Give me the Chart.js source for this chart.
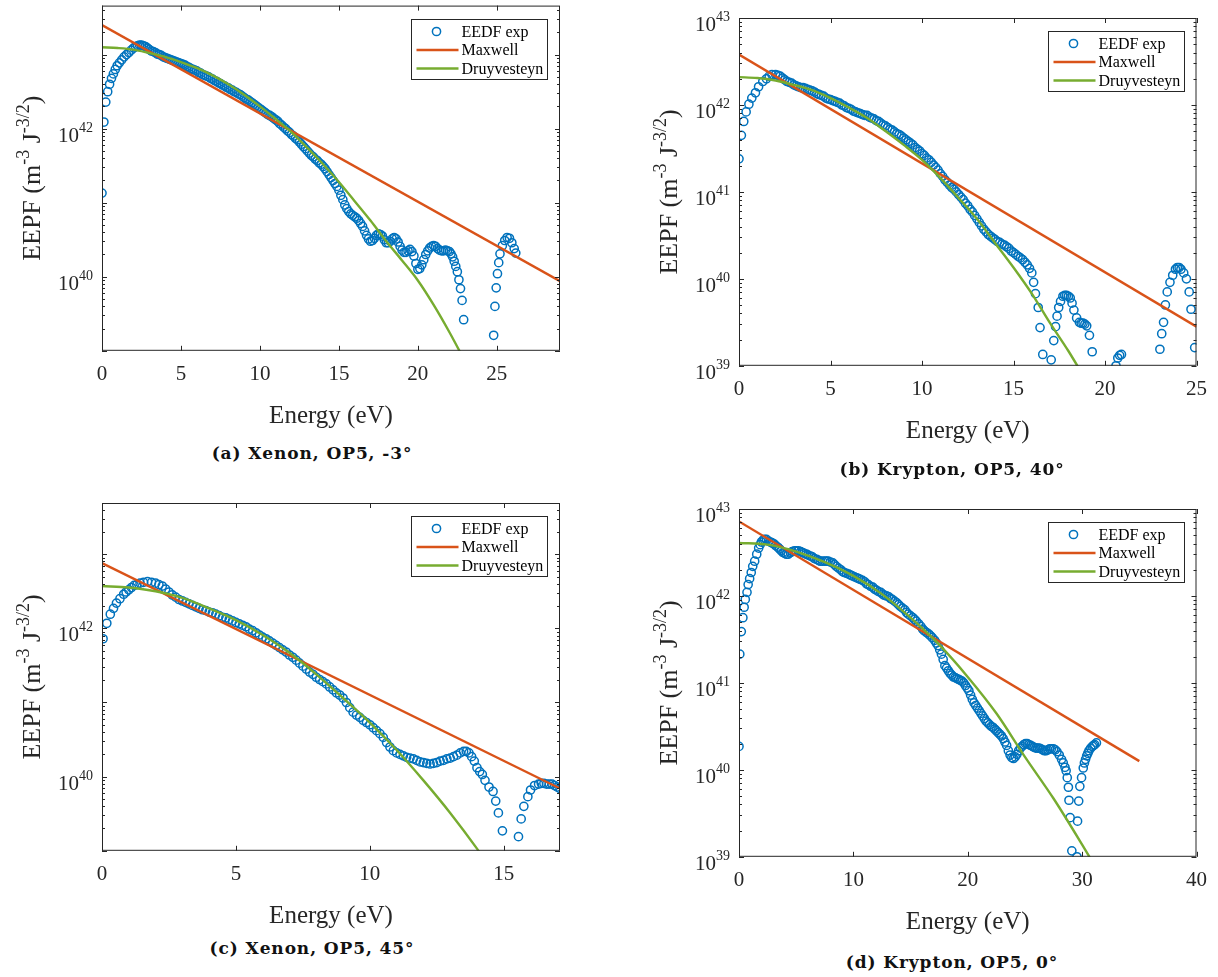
<!DOCTYPE html>
<html>
<head>
<meta charset="utf-8">
<script src="https://cdn.jsdelivr.net/npm/chart.js@4.4.1/dist/chart.umd.min.js"></script>
<style>
  body { margin: 0; background: #fff; width: 1218px; height: 977px; position: relative; overflow: hidden; }
  canvas { position: absolute; }
  .cap { position: absolute; font: bold 17px "DejaVu Serif", serif; letter-spacing: 0.9px; color: #111;
         white-space: nowrap; transform: translate(-50%, -50%); }
</style>
</head>
<body>
<canvas id="panelA" width="610" height="440" style="left:0;top:0"></canvas>
<canvas id="panelB" width="608" height="460" style="left:610px;top:0"></canvas>
<canvas id="panelC" width="610" height="445" style="left:0;top:490px"></canvas>
<canvas id="panelD" width="608" height="460" style="left:610px;top:490px"></canvas>
<div class="cap" style="left:312px;top:453px">(a) Xenon, OP5, -3°</div>
<div class="cap" style="left:952px;top:469px">(b) Krypton, OP5, 40°</div>
<div class="cap" style="left:312px;top:948px">(c) Xenon, OP5, 45°</div>
<div class="cap" style="left:952px;top:962px">(d) Krypton, OP5, 0°</div>
<script>
// (a) Xenon, OP5, -3 deg
const xeM3Energy = [0, 0.12, 0.24, 0.36, 0.48, 0.6, 0.72, 0.84, 0.96, 1.1, 1.25, 1.4, 1.55, 1.7, 1.85, 2.0,
  2.125, 2.25, 2.375, 2.5, 2.625, 2.75, 2.875, 3.0, 3.125, 3.25, 3.375, 3.5, 3.625, 3.75, 3.875,
  4.0, 4.125, 4.25, 4.375, 4.5, 4.625, 4.75, 4.875, 5.0, 5.125, 5.25, 5.375, 5.5, 5.625, 5.75, 5.875,
  6.0, 6.125, 6.25, 6.375, 6.5, 6.625, 6.75, 6.875, 7.0, 7.125, 7.25, 7.375, 7.5, 7.625, 7.75, 7.875,
  8.0, 8.125, 8.25, 8.375, 8.5, 8.625, 8.75, 8.875, 9.0, 9.125, 9.25, 9.375, 9.5, 9.625, 9.75, 9.875,
  10.0, 10.125, 10.25, 10.375, 10.5, 10.625, 10.75, 10.875, 11.0, 11.125, 11.25, 11.375, 11.5, 11.625, 11.75, 11.875,
  12.0, 12.125, 12.25, 12.375, 12.5, 12.625, 12.75, 12.875, 13.0, 13.125, 13.25, 13.375, 13.5, 13.625, 13.75, 13.875,
  14.0, 14.125, 14.25, 14.375, 14.5, 14.625, 14.75, 14.875, 15.0, 15.125, 15.25, 15.375, 15.5, 15.625, 15.75, 15.875,
  16.0, 16.125, 16.25, 16.375, 16.5, 16.625, 16.75, 16.875, 17.0, 17.125, 17.25, 17.375, 17.5, 17.625, 17.75, 17.875,
  18.0, 18.125, 18.25, 18.375, 18.5, 18.625, 18.75, 18.875, 19.0, 19.125, 19.25, 19.375, 19.5, 19.625, 19.75, 19.875,
  20.0, 20.125, 20.25, 20.375, 20.5, 20.625, 20.75, 20.875, 21.0, 21.125, 21.25, 21.375, 21.5, 21.625, 21.75, 21.875,
  22.0, 22.1, 22.2, 22.3, 22.4, 22.5, 22.6, 22.7, 22.8, 22.9,
  24.8, 24.88, 24.96, 25.04, 25.12, 25.2, 25.35, 25.5, 25.65, 25.8, 25.95, 26.1, 26.2];
const xeM3Eepf = [1.35e41, 1.23e42, 2.29e42, 3.16e42, 3.98e42, 4.79e42, 5.5e42, 6.31e42, 7.08e42, 7.76e42, 8.51e42,
  9.33e42, 1.0e43, 1.07e43, 1.15e43, 1.23e43,
  1.29e43, 1.32e43, 1.35e43, 1.35e43, 1.32e43, 1.29e43, 1.23e43, 1.17e43, 1.12e43, 1.1e43, 1.07e43, 1.02e43, 1.0e43, 9.77e42, 9.33e42,
  9.12e42, 8.91e42, 8.71e42, 8.51e42, 8.32e42, 8.13e42, 7.94e42, 7.76e42, 7.59e42, 7.41e42, 7.24e42, 6.92e42, 6.76e42, 6.46e42, 6.31e42, 6.17e42,
  6.03e42, 5.75e42, 5.62e42, 5.37e42, 5.25e42, 5.13e42, 5.01e42, 4.79e42, 4.68e42, 4.47e42, 4.37e42, 4.17e42, 4.07e42, 3.89e42, 3.8e42, 3.63e42,
  3.55e42, 3.39e42, 3.31e42, 3.16e42, 3.09e42, 2.95e42, 2.88e42, 2.75e42, 2.63e42, 2.51e42, 2.45e42, 2.34e42, 2.24e42, 2.14e42, 2.04e42, 1.95e42,
  1.86e42, 1.78e42, 1.7e42, 1.62e42, 1.55e42, 1.51e42, 1.45e42, 1.38e42, 1.32e42, 1.26e42, 1.17e42, 1.12e42, 1.05e42, 1.0e42, 9.33e41, 8.91e41,
  8.32e41, 7.94e41, 7.41e41, 7.08e41, 6.61e41, 6.17e41, 5.75e41, 5.37e41, 5.01e41, 4.68e41, 4.37e41, 4.17e41, 3.89e41, 3.72e41, 3.47e41, 3.31e41,
  3.09e41, 2.88e41, 2.63e41, 2.4e41, 2.19e41, 2.0e41, 1.82e41, 1.66e41, 1.48e41, 1.26e41, 1.1e41, 9.33e40, 8.32e40, 7.59e40, 7.08e40, 6.76e40,
  6.46e40, 6.17e40, 5.75e40, 5.25e40, 4.79e40, 4.17e40, 3.63e40, 3.24e40, 3.02e40, 3.09e40, 3.31e40, 3.63e40, 3.8e40, 3.72e40, 3.55e40, 3.16e40,
  2.88e40, 2.88e40, 3.02e40, 3.24e40, 3.39e40, 3.24e40, 2.95e40, 2.57e40, 2.29e40, 2.14e40, 2.14e40, 2.24e40, 2.34e40, 2.19e40, 1.91e40, 1.51e40,
  1.26e40, 1.29e40, 1.45e40, 1.7e40, 2.0e40, 2.24e40, 2.45e40, 2.57e40, 2.63e40, 2.57e40, 2.4e40, 2.29e40, 2.24e40, 2.24e40, 2.29e40, 2.24e40,
  2.19e40, 2.04e40, 1.86e40, 1.62e40, 1.38e40, 1.17e40, 9.12e39, 6.92e39, 4.79e39, 2.63e39,
  1.62e39, 3.98e39, 7.08e39, 1.1e40, 1.55e40, 2.04e40, 2.63e40, 3.09e40, 3.39e40, 3.31e40, 2.88e40, 2.4e40, 2.09e40];
const xeM3MaxwellEnergy = [0, 29];
const xeM3Maxwell = [2.51e43, 8.7e39];
const xeM3DruyEnergy = [0, 1, 2, 3, 4, 5, 6, 7, 8, 9, 10, 11, 12, 13, 14, 15, 16, 17, 18, 19, 20, 21, 22, 23];
const xeM3Druy = [1.26e43, 1.23e43, 1.17e43, 1.05e43, 9.33e42, 7.94e42, 6.61e42, 5.25e42, 3.98e42, 2.88e42,
  2.0e42, 1.35e42, 8.91e41, 5.5e41, 3.31e41, 1.91e41, 1.05e41, 5.75e40, 3.02e40, 1.66e40, 8.91e39, 4.17e39,
  1.78e39, 7.1e38];

// (b) Krypton, OP5, 40 deg
const kr40Energy = [0, 0.13, 0.26, 0.39, 0.54, 0.7, 0.9, 1.07, 1.3, 1.5, 1.65, 1.8,
  2.0, 2.125, 2.25, 2.375, 2.5, 2.625, 2.75, 2.875, 3.0, 3.125, 3.25, 3.375, 3.5, 3.625, 3.75, 3.875,
  4.0, 4.125, 4.25, 4.375, 4.5, 4.625, 4.75, 4.875, 5.0, 5.125, 5.25, 5.375, 5.5, 5.625, 5.75, 5.875,
  6.0, 6.125, 6.25, 6.375, 6.5, 6.625, 6.75, 6.875, 7.0, 7.125, 7.25, 7.375, 7.5, 7.625, 7.75, 7.875,
  8.0, 8.125, 8.25, 8.375, 8.5, 8.625, 8.75, 8.875, 9.0, 9.125, 9.25, 9.375, 9.5, 9.625, 9.75, 9.875,
  10.0, 10.125, 10.25, 10.375, 10.5, 10.625, 10.75, 10.875, 11.0, 11.125, 11.25, 11.375, 11.5, 11.625, 11.75, 11.875,
  12.0, 12.125, 12.25, 12.375, 12.5, 12.625, 12.75, 12.875, 13.0, 13.125, 13.25, 13.375, 13.5, 13.625, 13.75, 13.875,
  14.0, 14.125, 14.25, 14.375, 14.5, 14.625, 14.75, 14.875, 15.0, 15.125, 15.25, 15.375, 15.5, 15.625, 15.75, 15.875,
  16.0, 16.1, 16.2, 16.35, 16.45, 16.6, 17.06, 17.2, 17.3, 17.38, 17.47, 17.57, 17.7, 17.8, 17.9, 18.0, 18.1,
  18.2, 18.3, 18.45, 18.6, 18.7, 18.8, 18.9, 19.0, 19.15, 19.3, 20.6, 20.7, 20.8, 20.9,
  23.0, 23.1, 23.2, 23.3, 23.4, 23.55, 23.7, 23.85, 23.95, 24.05, 24.15, 24.3, 24.45, 24.6, 24.7, 24.9];
const kr40Eepf = [2.4e41, 4.47e41, 6.46e41, 8.32e41, 1.02e42, 1.2e42, 1.38e42, 1.62e42, 1.86e42, 2.0e42, 2.14e42, 2.24e42,
  2.24e42, 2.19e42, 2.14e42, 2.04e42, 1.95e42, 1.86e42, 1.82e42, 1.78e42, 1.7e42, 1.66e42, 1.62e42, 1.58e42, 1.58e42, 1.55e42, 1.51e42, 1.48e42,
  1.45e42, 1.41e42, 1.35e42, 1.32e42, 1.29e42, 1.26e42, 1.2e42, 1.17e42, 1.15e42, 1.12e42, 1.1e42, 1.07e42, 1.05e42, 1.0e42, 9.77e41, 9.33e41,
  9.12e41, 8.91e41, 8.51e41, 8.32e41, 8.13e41, 7.94e41, 7.76e41, 7.59e41, 7.59e41, 7.24e41, 7.08e41, 6.92e41, 6.61e41, 6.46e41, 6.17e41, 5.89e41,
  5.75e41, 5.5e41, 5.25e41, 5.13e41, 4.9e41, 4.68e41, 4.57e41, 4.37e41, 4.17e41, 3.98e41, 3.8e41, 3.63e41, 3.47e41, 3.24e41, 3.09e41, 2.95e41,
  2.75e41, 2.63e41, 2.45e41, 2.34e41, 2.19e41, 2.04e41, 1.91e41, 1.78e41, 1.62e41, 1.51e41, 1.38e41, 1.29e41, 1.2e41, 1.12e41, 1.07e41, 1.0e41,
  9.33e40, 8.71e40, 8.13e40, 7.41e40, 6.92e40, 6.31e40, 5.89e40, 5.37e40, 4.9e40, 4.47e40, 4.07e40, 3.72e40, 3.47e40, 3.24e40, 3.09e40, 2.95e40,
  2.82e40, 2.69e40, 2.63e40, 2.51e40, 2.45e40, 2.34e40, 2.24e40, 2.09e40, 2.0e40, 1.91e40, 1.82e40, 1.74e40, 1.66e40, 1.55e40, 1.45e40, 1.32e40,
  1.17e40, 9.12e39, 6.76e39, 4.68e39, 2.75e39, 1.35e39, 1.17e39, 1.95e39, 2.82e39, 3.72e39, 4.68e39, 5.5e39, 6.31e39, 6.46e39, 6.46e39, 6.31e39, 6.03e39,
  5.25e39, 4.37e39, 3.55e39, 3.16e39, 3.09e39, 3.09e39, 3.02e39, 2.88e39, 2.24e39, 1.45e39, 1.0e39, 1.23e39, 1.32e39, 1.35e39,
  1.55e39, 2.34e39, 3.16e39, 5.01e39, 7.08e39, 9.12e39, 1.1e40, 1.29e40, 1.35e40, 1.35e40, 1.29e40, 1.17e40, 1.0e40, 7.08e39, 4.47e39, 1.62e39];
const kr40MaxwellEnergy = [0, 25];
const kr40Maxwell = [3.8e42, 2.82e39];
const kr40DruyEnergy = [0, 1, 2, 3, 4, 5, 6, 7, 8, 9, 10, 11, 12, 13, 14, 15, 16, 17, 18, 19];
const kr40Druy = [2.09e42, 2.04e42, 1.91e42, 1.7e42, 1.48e42, 1.2e42, 9.33e41, 7.08e41, 5.01e41, 3.47e41,
  2.34e41, 1.45e41, 8.51e40, 4.9e40, 2.57e40, 1.35e40, 6.76e39, 3.09e39, 1.48e39, 6.6e38];

// (c) Xenon, OP5, 45 deg
const xe45Energy = [0.04, 0.18, 0.31, 0.43, 0.54, 0.67, 0.81, 0.9, 1.0, 1.1, 1.2, 1.3, 1.42, 1.55, 1.7, 1.85,
  2.0, 2.125, 2.25, 2.375, 2.5, 2.625, 2.75, 2.875, 3.0, 3.125, 3.25, 3.375, 3.5, 3.625, 3.75, 3.875,
  4.0, 4.125, 4.25, 4.375, 4.5, 4.625, 4.75, 4.875, 5.0, 5.125, 5.25, 5.375, 5.5, 5.625, 5.75, 5.875,
  6.0, 6.125, 6.25, 6.375, 6.5, 6.625, 6.75, 6.875, 7.0, 7.125, 7.25, 7.375, 7.5, 7.625, 7.75, 7.875,
  8.0, 8.125, 8.25, 8.375, 8.5, 8.625, 8.75, 8.875, 9.0, 9.125, 9.25, 9.375, 9.5, 9.625, 9.75, 9.875,
  10.0, 10.125, 10.25, 10.375, 10.5, 10.625, 10.75, 10.875, 11.0, 11.125, 11.25, 11.375, 11.5, 11.625, 11.75, 11.875,
  12.0, 12.125, 12.25, 12.375, 12.5, 12.625, 12.75, 12.875, 13.0, 13.125, 13.25, 13.375, 13.5,
  13.6, 13.7, 13.8, 13.9, 14.0, 14.1, 14.2, 14.3, 14.45, 14.6, 14.7, 14.8, 14.95,
  15.55, 15.65, 15.75, 15.9, 16.0, 16.15, 16.3, 16.4, 16.5, 16.6, 16.7, 16.8, 16.9, 17.0, 17.1];
const xe45Eepf = [7.24e41, 1.17e42, 1.55e42, 1.86e42, 2.19e42, 2.51e42, 2.88e42, 3.09e42, 3.31e42, 3.55e42, 3.8e42,
  3.89e42, 4.07e42, 4.17e42, 4.27e42, 4.17e42,
  4.07e42, 3.89e42, 3.72e42, 3.39e42, 3.09e42, 2.82e42, 2.63e42, 2.45e42, 2.34e42, 2.24e42, 2.14e42, 2.04e42, 1.95e42, 1.86e42, 1.78e42, 1.74e42,
  1.66e42, 1.62e42, 1.55e42, 1.48e42, 1.41e42, 1.38e42, 1.32e42, 1.26e42, 1.2e42, 1.15e42, 1.1e42, 1.05e42, 9.77e41, 9.33e41, 8.71e41, 8.13e41,
  7.59e41, 7.24e41, 6.76e41, 6.31e41, 5.89e41, 5.5e41, 5.13e41, 4.79e41, 4.37e41, 4.07e41, 3.72e41, 3.39e41, 3.09e41, 2.82e41, 2.57e41, 2.4e41,
  2.19e41, 2.04e41, 1.91e41, 1.78e41, 1.62e41, 1.48e41, 1.35e41, 1.26e41, 1.15e41, 1.0e41, 8.51e40, 7.41e40, 6.76e40, 6.31e40, 5.75e40, 5.37e40,
  5.01e40, 4.57e40, 4.17e40, 3.8e40, 3.39e40, 2.88e40, 2.51e40, 2.24e40, 2.09e40, 2.0e40, 1.91e40, 1.82e40, 1.78e40, 1.74e40, 1.66e40, 1.58e40,
  1.55e40, 1.51e40, 1.48e40, 1.51e40, 1.55e40, 1.62e40, 1.66e40, 1.74e40, 1.78e40, 1.86e40, 1.95e40, 2.09e40, 2.19e40,
  2.19e40, 2.09e40, 1.86e40, 1.62e40, 1.32e40, 1.17e40, 1.07e40, 8.91e39, 7.24e39, 6.31e39, 4.68e39, 3.24e39, 1.86e39,
  1.55e39, 2.69e39, 3.98e39, 5.37e39, 6.61e39, 7.59e39, 7.94e39, 8.13e39, 8.13e39, 7.94e39, 7.94e39, 7.94e39, 7.59e39, 7.24e39, 6.92e39];
const xe45MaxwellEnergy = [0, 17.1];
const xe45Maxwell = [7.59e42, 6.92e39];
const xe45DruyEnergy = [0, 1, 2, 3, 4, 5, 6, 7, 8, 9, 10, 11, 12, 13, 14, 14.4];
const xe45Druy = [3.72e42, 3.55e42, 3.16e42, 2.57e42, 1.86e42, 1.29e42, 8.13e41, 4.68e41, 2.4e41, 1.15e41,
  5.37e40, 2.29e40, 8.91e39, 3.24e39, 1.07e39, 6.6e38];

// (d) Krypton, OP5, 0 deg
const kr0Energy = [0, 0.07, 0.2, 0.34, 0.45, 0.55, 0.7, 0.8, 0.93, 1.07, 1.2, 1.37, 1.55, 1.72, 1.85, 1.96,
  2.1, 2.23, 2.4, 2.58, 2.75, 2.9, 3.05, 3.2, 3.4, 3.55, 3.7, 3.85, 4.0, 4.15, 4.3, 4.5, 4.65, 4.85,
  5.0, 5.2, 5.4, 5.55, 5.7, 5.9, 6.05, 6.25, 6.4, 6.6, 6.8, 6.95, 7.1, 7.3, 7.5, 7.65, 7.8, 8.0, 8.2,
  8.35, 8.5, 8.7, 8.9, 9.05, 9.2, 9.4, 9.6, 9.75, 9.9, 10.1, 10.3, 10.45, 10.6, 10.8, 11.0, 11.15, 11.3,
  11.5, 11.7, 11.85, 12.0, 12.2, 12.4, 12.55, 12.7, 12.9, 13.1, 13.25, 13.4, 13.6, 13.8, 13.95, 14.1,
  14.3, 14.5, 14.65, 14.8, 15.0, 15.2, 15.35, 15.5, 15.7, 15.9, 16.05, 16.2, 16.4, 16.6, 16.75, 16.9,
  17.1, 17.25, 17.4, 17.55, 17.7, 17.85, 18.0, 18.15, 18.3, 18.45, 18.6, 18.75, 18.9, 19.05, 19.2, 19.35,
  19.5, 19.65, 19.8, 19.95, 20.1, 20.25, 20.4, 20.55, 20.7, 20.85, 21.0, 21.15, 21.3, 21.45, 21.6, 21.75,
  21.9, 22.05, 22.2, 22.35, 22.5, 22.65, 22.8, 22.95, 23.1, 23.25, 23.4, 23.55, 23.7, 23.85, 24.0, 24.15,
  24.3, 24.45, 24.6, 24.75, 24.9, 25.05, 25.2, 25.35, 25.5, 25.65, 25.8, 25.95, 26.1, 26.25, 26.4, 26.55,
  26.7, 26.85, 27.0, 27.15, 27.3, 27.5, 27.65, 27.8, 28.0, 28.2, 28.35, 28.5, 28.6, 28.7, 28.8, 28.85,
  28.95, 29.1, 29.55, 29.6, 29.7, 29.8, 29.95, 30.1, 30.2, 30.3, 30.4, 30.5, 30.6, 30.75, 30.9, 31.0,
  31.1, 31.25];
const kr0Eepf = [1.86e40, 2.14e41, 3.89e41, 5.62e41, 7.41e41, 9.12e41, 1.1e42, 1.35e42, 1.58e42, 1.86e42, 2.19e42,
  2.51e42, 3.02e42, 3.55e42, 3.89e42, 4.17e42,
  4.37e42, 4.47e42, 4.47e42, 4.27e42, 4.17e42, 4.07e42, 3.98e42, 3.8e42, 3.63e42, 3.47e42, 3.31e42, 3.16e42, 3.09e42, 3.02e42, 3.02e42, 3.16e42, 3.24e42, 3.31e42,
  3.31e42, 3.31e42, 3.24e42, 3.16e42, 3.09e42, 3.02e42, 2.95e42, 2.88e42, 2.82e42, 2.69e42, 2.63e42, 2.57e42, 2.51e42, 2.51e42, 2.51e42, 2.51e42, 2.51e42, 2.45e42, 2.4e42,
  2.29e42, 2.19e42, 2.09e42, 2.0e42, 1.91e42, 1.86e42, 1.82e42, 1.78e42, 1.74e42, 1.7e42, 1.66e42, 1.62e42, 1.58e42, 1.55e42, 1.51e42, 1.45e42, 1.38e42, 1.35e42,
  1.29e42, 1.26e42, 1.2e42, 1.17e42, 1.12e42, 1.1e42, 1.05e42, 1.02e42, 1.0e42, 9.77e41, 9.33e41, 9.12e41, 8.71e41, 8.32e41, 7.94e41, 7.59e41,
  7.24e41, 6.92e41, 6.46e41, 6.17e41, 5.89e41, 5.62e41, 5.37e41, 5.13e41, 4.79e41, 4.47e41, 4.17e41, 3.98e41, 3.8e41, 3.63e41, 3.47e41, 3.31e41,
  3.09e41, 2.88e41, 2.69e41, 2.4e41, 2.14e41, 1.86e41, 1.58e41, 1.48e41, 1.38e41, 1.29e41, 1.23e41, 1.17e41, 1.15e41, 1.12e41, 1.1e41, 1.07e41,
  1.05e41, 1.0e41, 9.33e40, 8.71e40, 8.13e40, 7.24e40, 6.46e40, 5.89e40, 5.5e40, 5.13e40, 4.79e40, 4.47e40, 4.17e40, 3.89e40, 3.63e40, 3.47e40,
  3.31e40, 3.16e40, 3.09e40, 2.95e40, 2.82e40, 2.69e40, 2.57e40, 2.45e40, 2.29e40, 2.09e40, 1.91e40, 1.66e40, 1.48e40, 1.38e40, 1.35e40, 1.41e40,
  1.51e40, 1.66e40, 1.78e40, 1.86e40, 1.95e40, 2.0e40, 2.0e40, 1.95e40, 1.91e40, 1.86e40, 1.82e40, 1.78e40, 1.78e40, 1.78e40, 1.74e40, 1.7e40,
  1.66e40, 1.66e40, 1.7e40, 1.74e40, 1.74e40, 1.74e40, 1.7e40, 1.62e40, 1.48e40, 1.32e40, 1.2e40, 1.07e40, 9.77e39, 8.13e39, 6.31e39, 4.47e39,
  2.82e39, 1.17e39, 1.0e39, 2.57e39, 4.37e39, 6.46e39, 8.13e39, 1.05e40, 1.2e40, 1.32e40, 1.45e40, 1.55e40, 1.66e40, 1.78e40, 1.86e40, 1.91e40,
  1.95e40, 2.04e40];
const kr0MaxwellEnergy = [0, 35];
const kr0Maxwell = [7.2e42, 1.26e40];
const kr0DruyEnergy = [0, 2.5, 5, 7.5, 10, 12.5, 15, 17.5, 20, 22.5, 25, 27.5, 30, 31];
const kr0Druy = [4.07e42, 3.89e42, 3.24e42, 2.45e42, 1.7e42, 1.05e42, 5.62e41, 2.75e41, 1.17e41, 4.47e40,
  1.41e40, 4.68e39, 1.38e39, 8.3e38];

const axisColor = '#262626';
const serif = '"Liberation Serif", "Times New Roman", serif';
Chart.defaults.font.family = serif;

function pairs(xs, ys) {
  return xs.map((x, i) => ({ x, y: ys[i] }));
}

// MATLAB-style box: inward ticks on all sides, 10^n labels, rotated y title, legend inside
const matlabAxes = {
  id: 'matlabAxes',
  afterDraw(chart, args, opts) {
    const { ctx, chartArea: a, scales: { x, y } } = chart;
    ctx.save();
    ctx.strokeStyle = axisColor;
    ctx.lineWidth = 1;
    ctx.beginPath();
    x.ticks.forEach((t) => {
      const px = Math.round(x.getPixelForValue(t.value)) + 0.5;
      ctx.moveTo(px, a.bottom); ctx.lineTo(px, a.bottom - 5);
      ctx.moveTo(px, a.top); ctx.lineTo(px, a.top + 5);
    });
    const lo = Math.floor(Math.log10(y.min));
    const hi = Math.ceil(Math.log10(y.max));
    for (let k = lo; k <= hi; k++) {
      for (let m = 1; m < 10; m++) {
        const v = m * Math.pow(10, k);
        if (v < y.min * 0.999 || v > y.max * 1.001) continue;
        const py = Math.round(y.getPixelForValue(v)) + 0.5;
        const len = m === 1 ? 5 : 3;
        ctx.moveTo(a.left, py); ctx.lineTo(a.left + len, py);
        ctx.moveTo(a.right, py); ctx.lineTo(a.right - len, py);
      }
    }
    ctx.stroke();
    ctx.strokeRect(a.left + 0.5, a.top + 0.5, a.right - a.left - 1, a.bottom - a.top - 1);

    // y tick labels 10^n
    ctx.fillStyle = axisColor;
    ctx.textBaseline = 'alphabetic';
    ctx.textAlign = 'left';
    opts.yLabels.forEach((e) => {
      const py = y.getPixelForValue(Math.pow(10, e));
      ctx.font = '14px ' + serif;
      const sw = ctx.measureText(String(e)).width;
      ctx.font = '21px ' + serif;
      const bw = ctx.measureText('10').width;
      const right = a.left - 9;
      ctx.fillText('10', right - sw - bw, py + 13);
      ctx.font = '14px ' + serif;
      ctx.fillText(String(e), right - sw, py + 3);
    });

    // y title with superscripts
    const parts = [['EEPF (m', 0], ['-3', 1], [' J', 0], ['-3/2', 1], [')', 0]];
    const fontFor = (s) => (s ? '18px ' : '26px ') + serif;
    let total = 0;
    parts.forEach(([t, s]) => { ctx.font = fontFor(s); total += ctx.measureText(t).width; });
    ctx.save();
    ctx.translate(a.left - 62, (a.top + a.bottom) / 2);
    ctx.rotate(-Math.PI / 2);
    let cx = -total / 2;
    parts.forEach(([t, s]) => {
      ctx.font = fontFor(s);
      ctx.fillText(t, cx, s ? -11 : 0);
      cx += ctx.measureText(t).width;
    });
    ctx.restore();

    // legend box
    const lw = 136, lh = 60;
    const lx = Math.round(a.right - 13 - lw) + 0.5;
    const ly = Math.round(a.top + 13) + 0.5;
    ctx.fillStyle = '#fff';
    ctx.fillRect(lx, ly, lw, lh);
    ctx.strokeStyle = axisColor;
    ctx.strokeRect(lx, ly, lw, lh);
    ctx.font = '16px ' + serif;
    ctx.textBaseline = 'middle';
    chart.data.datasets.slice().reverse().forEach((ds, i) => {
      const cy = ly + 12 + i * 18.5;
      ctx.strokeStyle = ds.borderColor;
      ctx.lineWidth = ds.borderWidth;
      ctx.beginPath();
      if (ds.showLine) {
        ctx.moveTo(lx + 5, cy); ctx.lineTo(lx + 47, cy);
      } else {
        ctx.arc(lx + 25, cy, ds.pointRadius, 0, Math.PI * 2);
      }
      ctx.stroke();
      ctx.fillStyle = '#000';
      ctx.fillText(ds.label, lx + 50, cy + 1);
    });
    ctx.restore();
  },
};

function makePanel(id, p) {
  new Chart(document.getElementById(id), {
    type: 'scatter',
    data: {
      datasets: [
        {
          label: 'Druyvesteyn',
          data: pairs(p.druyE, p.druy),
          showLine: true,
          borderColor: '#77AC30',
          borderWidth: 2.4,
          pointRadius: 0,
          cubicInterpolationMode: 'monotone',
        },
        {
          label: 'Maxwell',
          data: pairs(p.maxE, p.max),
          showLine: true,
          borderColor: '#D95319',
          borderWidth: 2.4,
          pointRadius: 0,
        },
        {
          label: 'EEDF exp',
          data: pairs(p.expE, p.exp),
          showLine: false,
          borderColor: '#0072BD',
          backgroundColor: 'rgba(0,0,0,0)',
          pointRadius: 4.1,
          pointBorderWidth: 1.5,
          borderWidth: 1.5,
        },
      ],
    },
    options: {
      responsive: false,
      animation: false,
      devicePixelRatio: 1,
      layout: { padding: p.padding },
      plugins: {
        legend: { display: false },
        tooltip: { enabled: false },
        matlabAxes: { yLabels: p.yLabels },
      },
      scales: {
        x: {
          type: 'linear',
          min: 0,
          max: p.xMax,
          bounds: 'data',
          grid: { display: false, drawTicks: false },
          border: { display: false },
          afterBuildTicks: (s) => { s.ticks = s.ticks.filter((t) => t.value % p.xStep === 0); },
          ticks: {
            stepSize: p.xStep,
            includeBounds: false,
            padding: 11,
            maxRotation: 0,
            color: axisColor,
            font: { family: serif, size: 21 },
          },
          title: {
            display: true,
            text: 'Energy (eV)',
            color: axisColor,
            font: { family: serif, size: 25 },
            padding: { top: 3, bottom: 0 },
          },
        },
        y: { type: 'logarithmic', min: p.yMin, max: p.yMax, display: false },
      },
    },
    plugins: [matlabAxes],
  });
}

makePanel('panelA', {
  expE: xeM3Energy, exp: xeM3Eepf, maxE: xeM3MaxwellEnergy, max: xeM3Maxwell,
  druyE: xeM3DruyEnergy, druy: xeM3Druy,
  xMax: 29, xStep: 5, yMin: 1e39, yMax: 4.6e43, yLabels: [40, 42],
  padding: { left: 102, top: 3, right: 50, bottom: 9 },
});
makePanel('panelB', {
  expE: kr40Energy, exp: kr40Eepf, maxE: kr40MaxwellEnergy, max: kr40Maxwell,
  druyE: kr40DruyEnergy, druy: kr40Druy,
  xMax: 25, xStep: 5, yMin: 1e39, yMax: 1e43, yLabels: [39, 40, 41, 42, 43],
  padding: { left: 129, top: 18, right: 12, bottom: 14 },
});
makePanel('panelC', {
  expE: xe45Energy, exp: xe45Eepf, maxE: xe45MaxwellEnergy, max: xe45Maxwell,
  druyE: xe45DruyEnergy, druy: xe45Druy,
  xMax: 17.1, xStep: 5, yMin: 1e39, yMax: 4.9e43, yLabels: [40, 42],
  padding: { left: 102, top: 13, right: 50, bottom: 4 },
});
makePanel('panelD', {
  expE: kr0Energy, exp: kr0Eepf, maxE: kr0MaxwellEnergy, max: kr0Maxwell,
  druyE: kr0DruyEnergy, druy: kr0Druy,
  xMax: 40, xStep: 10, yMin: 1e39, yMax: 1e43, yLabels: [39, 40, 41, 42, 43],
  padding: { left: 129, top: 19, right: 12, bottom: 13 },
});
</script>
</body>
</html>
